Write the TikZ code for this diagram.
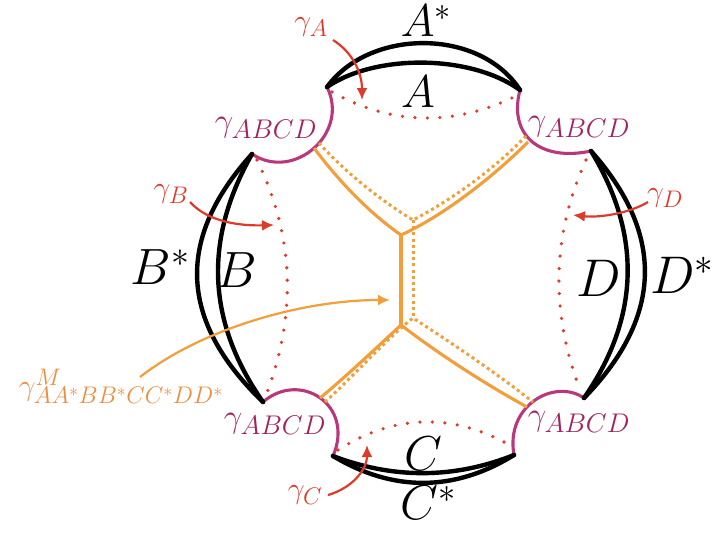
\RequirePackage{fix-cm}
\documentclass[tikz,border=0pt]{standalone}
\usetikzlibrary{arrows.meta}
\DeclareMathSizes{30}{30}{24}{18}
\DeclareMathSizes{33}{33}{27}{20}
\definecolor{redc}{RGB}{222,58,42}
\definecolor{magc}{RGB}{185,55,125}
\definecolor{maglab}{RGB}{160,35,95}
\definecolor{orc}{RGB}{242,158,58}
\definecolor{orlab}{RGB}{238,140,62}
\tikzset{
 blk/.style={draw=black, line width=4.4pt, line cap=round, line join=round},
 geo/.style={draw=magc, line width=3.1pt},
 reddot/.style={draw=redc, line width=3.6pt, line cap=round, dash pattern=on 0pt off 12.5pt},
 orsolid/.style={draw=orc, line width=3.1pt, line join=round},
 ordot/.style={draw=orc, line width=3pt, dash pattern=on 3pt off 3.2pt},
 redarrow/.style={draw=redc, line width=2.2pt, -{Latex[length=12pt,width=11pt]}},
 orarrow/.style={draw=orc, line width=2.2pt, -{Latex[length=12pt,width=11pt]}},
 labA/.style={inner sep=0pt, font=\fontsize{46}{46}\selectfont},
 labB/.style={inner sep=0pt, font=\fontsize{51}{51}\selectfont},
 labC/.style={inner sep=0pt, font=\fontsize{49}{49}\selectfont},
 labD/.style={inner sep=0pt, font=\fontsize{53}{53}\selectfont},
 glab/.style={inner sep=0pt, font=\fontsize{30}{30}\selectfont},
 gabcd/.style={inner sep=0pt, text=maglab, font=\fontsize{33}{33}\selectfont},
}
\begin{document}
\begin{tikzpicture}[x=1pt,y=-1pt]
\useasboundingbox (0,0) rectangle (714,533);
% corner points
\coordinate (a1) at (327,87);
\coordinate (a2) at (520,90);
\coordinate (b1) at (252,154);
\coordinate (b2) at (263,402);
\coordinate (c1) at (333,456);
\coordinate (c2) at (514,455);
\coordinate (d1) at (591,151);
\coordinate (d2) at (584,398);
% magenta geodesics
\draw[geo] (a1) .. controls (350,133) and (294,182) .. (b1);
\draw[geo] (a2) .. controls (508,135) and (540,162) .. (d1);
\draw[geo] (b2) .. controls (300,370) and (355,405) .. (c1);
\draw[geo] (d2) .. controls (555,378) and (505,405) .. (c2);
% black boundary arcs
\draw[blk] (a1) .. controls (375,54) and (470,54) .. (a2);
\draw[blk] (a1) .. controls (370,28) and (480,28) .. (a2);
\draw[blk] (b1) .. controls (205,237) and (205,319) .. (b2);
\draw[blk] (b1) .. controls (177,237) and (177,319) .. (b2);
\draw[blk] (d1) .. controls (641,233) and (641,316) .. (d2);
\draw[blk] (d1) .. controls (664,233) and (664,316) .. (d2);
\draw[blk] (c1) .. controls (393,479) and (454,479) .. (c2);
\draw[blk] (c1) .. controls (393,492) and (454,492) .. (c2);
% red dotted geodesics
\draw[reddot] (332,92) .. controls (393,126) and (455,126) .. (516,96);
\draw[reddot] (257,160) .. controls (296,240) and (296,318) .. (265,398);
\draw[reddot] (586,160) .. controls (551,237) and (551,313) .. (580,390);
\draw[reddot] (338,450) .. controls (396,413) and (455,413) .. (513,447);
% orange tree
\coordinate (o1) at (314,148);
\coordinate (v1) at (401,235);
\coordinate (o2) at (528,142);
\coordinate (v2) at (401,325);
\coordinate (o3) at (320,398);
\coordinate (o4) at (527,407);
\draw[orsolid] (o1) .. controls (338,180) and (368,212) .. (v1) .. controls (445,215) and (495,175) .. (o2);
\draw[orsolid] (v1) -- (v2);
\draw[orsolid] (o3) .. controls (342,380) and (372,352) .. (v2) .. controls (440,355) and (487,385) .. (o4);
\coordinate (p1) at (319,143);
\coordinate (w1) at (413,220);
\coordinate (p2) at (526,136);
\coordinate (w2) at (413,318);
\coordinate (p3) at (325,402);
\coordinate (p4) at (533,402);
\draw[ordot] (p1) .. controls (345,172) and (380,200) .. (w1) .. controls (455,198) and (495,168) .. (p2);
\draw[ordot] (w1) -- (w2);
\draw[ordot] (p3) .. controls (352,378) and (385,340) .. (w2) .. controls (450,342) and (495,372) .. (p4);
% big labels
\node[labA] (lAs) at (426,21) {$A^*$};
\node[labA] (lA) at (418,92) {$A$};
\node[labB] (lBs) at (160,267) {$B^*$};
\node[labB] (lB) at (237,270) {$B$};
\node[labC] (lC) at (423,454) {$C$};
\node[labC] (lCs) at (428,503) {$C^*$};
\node[labD] (lD) at (599,278) {$D$};
\node[labD] (lDs) at (682,275) {$D^*$};
% gamma ABCD labels
\node[gabcd] (g1) at (266,128) {$\gamma_{ABCD}$};
\node[gabcd] (g2) at (579,127) {$\gamma_{ABCD}$};
\node[gabcd] (g3) at (275,424) {$\gamma_{ABCD}$};
\node[gabcd] (g4) at (579,422) {$\gamma_{ABCD}$};
% red labels and arrows
\node[glab, text=redc] (gA) at (311,27) {$\gamma_A$};
\node[glab, text=redc] (gB) at (171,194) {$\gamma_B$};
\node[glab, text=redc] (gC) at (305,495) {$\gamma_C$};
\node[glab, text=redc] (gD) at (665,198) {$\gamma_D$};
\coordinate (sA) at (333,40);  \coordinate (tA) at (362,100);
\coordinate (sB) at (190,202); \coordinate (tB) at (274,225);
\coordinate (sC) at (328,495); \coordinate (tC) at (367,445);
\coordinate (sD) at (648,202); \coordinate (tD) at (573,215);
\draw[redarrow] (sA) .. controls (352,52) and (362,72) .. (tA);
\draw[redarrow] (sB) .. controls (208,222) and (240,226) .. (tB);
\draw[redarrow] (sC) .. controls (352,488) and (367,470) .. (tC);
\draw[redarrow] (sD) .. controls (630,213) and (600,218) .. (tD);
% orange label and arrow
\node[glab, text=orlab] (gM) at (121,386) {$\gamma^M_{AA^*BB^*CC^*DD^*}$};
\coordinate (sM) at (140,377); \coordinate (tM) at (390,300);
\draw[orarrow] (sM) .. controls (200,330) and (300,300) .. (tM);
\end{tikzpicture}
\end{document}
